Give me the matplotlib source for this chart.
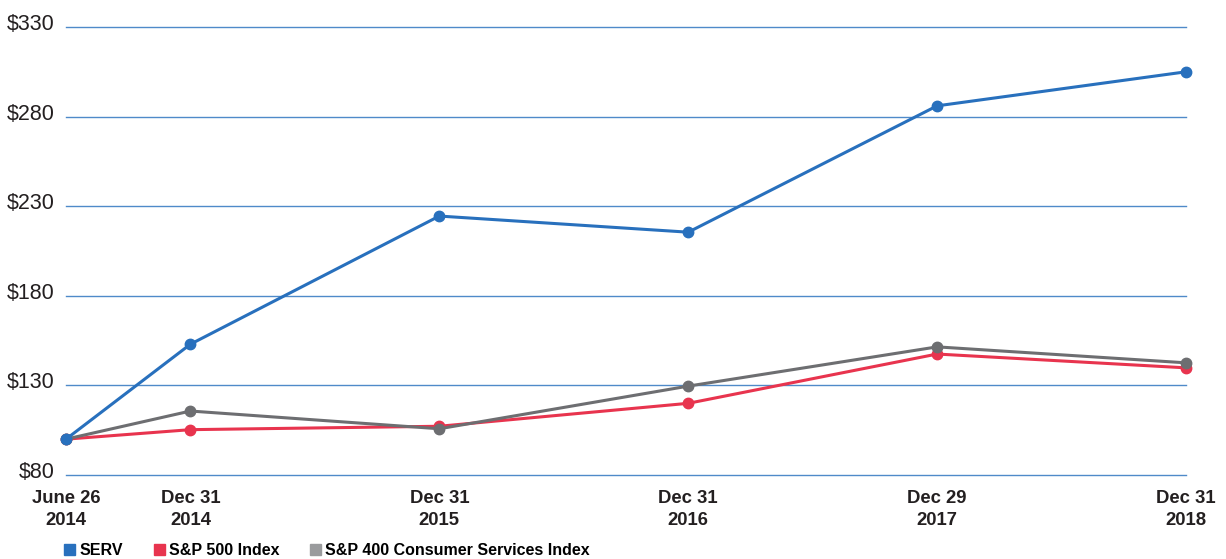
import datetime as dt
import matplotlib
matplotlib.use("Agg")
import matplotlib.pyplot as plt
import matplotlib.patches as mpatches
import matplotlib.transforms as mtransforms

plt.rcParams['font.family'] = ['Liberation Sans', 'DejaVu Sans']

dates = [dt.date(2014, 6, 26), dt.date(2014, 12, 31), dt.date(2015, 12, 31),
         dt.date(2016, 12, 31), dt.date(2017, 12, 29), dt.date(2018, 12, 31)]
date_labels = ['June 26\n2014', 'Dec 31\n2014', 'Dec 31\n2015',
               'Dec 31\n2016', 'Dec 29\n2017', 'Dec 31\n2018']

serv = [100, 153, 224.5, 215.5, 286, 305]
sp500 = [100, 105.3, 107.2, 120, 147.5, 139.8]
sp400_cs = [100, 115.7, 105.8, 129.6, 151.5, 142.6]

y_ticks = [80, 130, 180, 230, 280, 330]
y_labels = ['$80', '$130', '$180', '$230', '$280', '$330']

blue = '#2870bd'
red = '#e8344e'
gray = '#6d6e71'
gray_key = '#9a9b9d'
grid_blue = '#4f8ac9'

# fiscal periods on a month grid (half-year then yearly steps)
xs = [d.year + d.month / 12 for d in dates]

fig = plt.figure(figsize=(12.26, 5.59), dpi=100)
ax = fig.add_axes([66 / 1226, 84 / 559, 1120 / 1226, 448 / 559])

for v in y_ticks:
    ax.axhline(v, color=grid_blue, lw=1.0, zorder=1, clip_on=False)

ax.plot(xs, sp500, color=red, lw=2.2, marker='o', ms=7.5, clip_on=False, zorder=3)
ax.plot(xs, sp400_cs, color=gray, lw=2.2, marker='o', ms=7.5, clip_on=False, zorder=4)
ax.plot(xs, serv, color=blue, lw=2.2, marker='o', ms=7.5, clip_on=False, zorder=5)

ax.set_xlim(xs[0], xs[-1])
ax.set_ylim(80, 330)
ax.set_yticks(y_ticks)
ax.set_yticklabels(y_labels, fontsize=15.5, color='#231f20')
ax.set_xticks(xs)
ax.set_xticklabels(date_labels, fontsize=13.3, fontweight='bold', color='#231f20',
                   linespacing=1.35)
ax.tick_params(length=0, axis='y', pad=8)
ax.tick_params(length=0, axis='x', pad=11)
for s in ax.spines.values():
    s.set_visible(False)

offset = mtransforms.ScaledTranslation(0, 5 / 100, fig.dpi_scale_trans)
for lab in ax.get_yticklabels():
    lab.set_transform(lab.get_transform() + offset)

handles = [mpatches.Patch(color=blue, label='SERV'),
           mpatches.Patch(color=red, label='S&P 500 Index'),
           mpatches.Patch(color=gray_key, label='S&P 400 Consumer Services Index')]
fig.legend(handles=handles, loc='lower left', bbox_to_anchor=(50 / 1226, -0.024),
           ncol=3, frameon=False, handlelength=0.68, handleheight=0.68,
           handletextpad=0.25, columnspacing=1.95,
           prop={'size': 11.5, 'weight': 'bold'})

fig.savefig('out.png', dpi=100)
